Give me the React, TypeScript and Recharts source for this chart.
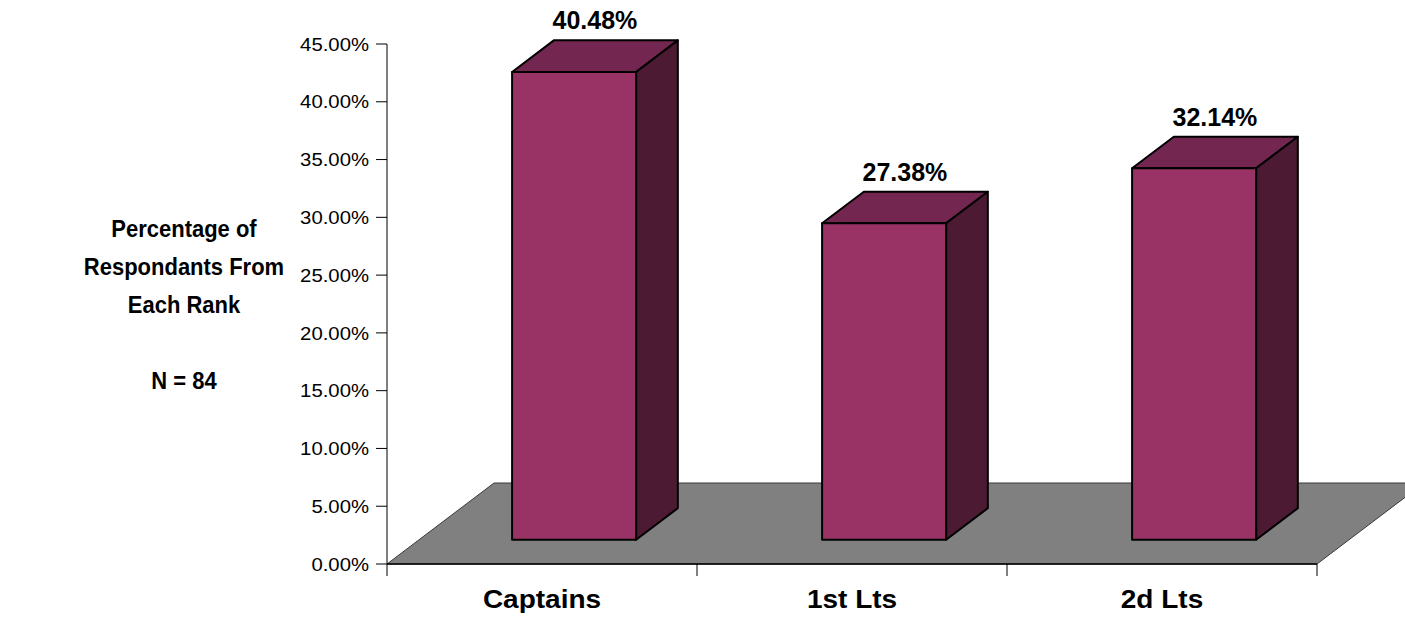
import { BarChart, Bar, XAxis, YAxis, ReferenceArea, LabelList, Label } from "recharts";

const ranks = ["Captains", "1st Lts", "2d Lts"];
const shares = [40.48, 27.38, 32.14];
const yTicks = [0, 5, 10, 15, 20, 25, 30, 35, 40, 45];
const titleLines = ["Percentage of", "Respondants From", "Each Rank", "", "N = 84"];

const chartData = ranks.map((rank, i) => ({ rank, share: shares[i] }));

const FONT = "'Liberation Sans', Arial, sans-serif";

// depth of the floor, and where the bars sit inside it
const DEPTH_X = 107;
const DEPTH_Y = -81;
const FRONT = 0.3;
const THICK = 0.39;

function Floor(props: any) {
  const { x, y, width, height } = props;
  const b = y + height;
  const pts = `${x},${b} ${x + DEPTH_X},${b + DEPTH_Y} ${x + width + DEPTH_X},${b + DEPTH_Y} ${x + width},${b}`;
  return <polygon points={pts} fill="#808080" stroke="#3a3a3a" strokeWidth={1} />;
}

function Bar3D(props: any) {
  const { x, y, width, height } = props;
  const ox = x + DEPTH_X * FRONT;
  const oy = y + DEPTH_Y * FRONT;
  const dx = DEPTH_X * THICK;
  const dy = DEPTH_Y * THICK;
  const bot = oy + height;
  return (
    <g stroke="#000" strokeWidth={2} strokeLinejoin="round">
      <polygon
        points={`${ox},${oy} ${ox + dx},${oy + dy} ${ox + width + dx},${oy + dy} ${ox + width},${oy}`}
        fill="#732650"
      />
      <polygon
        points={`${ox + width},${oy} ${ox + width + dx},${oy + dy} ${ox + width + dx},${bot + dy} ${ox + width},${bot}`}
        fill="#4d1a33"
      />
      <rect x={ox} y={oy} width={width} height={height} fill="#993366" />
    </g>
  );
}

function TopLabel(props: any) {
  const { x, y, width, value } = props;
  const cx = x + width / 2 + DEPTH_X * FRONT + (DEPTH_X * THICK) / 2;
  const top = y + DEPTH_Y * (FRONT + THICK);
  return (
    <text x={cx} y={top - 11} textAnchor="middle" fontFamily={FONT} fontWeight="bold" fontSize={25} fill="#000">
      {`${value.toFixed(2)}%`}
    </text>
  );
}

function YTick(props: any) {
  const { x, y, payload } = props;
  return (
    <text
      transform={`translate(${x},${y}) scale(1.07,1)`}
      textAnchor="end"
      dy="0.35em"
      fontFamily={FONT}
      fontSize={19}
      fill="#000"
    >
      {`${payload.value.toFixed(2)}%`}
    </text>
  );
}

function XTick(props: any) {
  const { x, y, payload, index, visibleTicksCount } = props;
  const half = payload.offset || 0;
  return (
    <g>
      <line x1={x - half} y1={y} x2={x - half} y2={y + 12} stroke="#000" />
      {index === visibleTicksCount - 1 && (
        <line x1={x + half} y1={y} x2={x + half} y2={y + 12} stroke="#000" />
      )}
      <text
        transform={`translate(${x},${y + 44}) scale(1.12,1)`}
        textAnchor="middle"
        fontFamily={FONT}
        fontWeight="bold"
        fontSize={25}
        fill="#000"
      >
        {payload.value}
      </text>
    </g>
  );
}

function SideTitle(props: any) {
  const vb = props.viewBox || { x: 0, y: 44 };
  return (
    <g>
      {titleLines.map((line, i) => (
        <text
          key={i}
          transform={`translate(${vb.x + 184},${vb.y + 193 + i * 38}) scale(1,1.08)`}
          fontFamily={FONT}
          fontWeight="bold"
          fontSize={22}
          fill="#000"
          textAnchor="middle"
        >
          {line}
        </text>
      ))}
    </g>
  );
}

export default function App() {
  return (
    <div style={{ position: "absolute", left: 0, top: 0, background: "#fff" }}>
      <BarChart
        width={1405}
        height={621}
        data={chartData}
        margin={{ top: 44, right: 88, bottom: 0, left: 0 }}
        barCategoryGap="30%"
      >
        <ReferenceArea y1={0} y2={45} shape={Floor} />
        <XAxis
          dataKey="rank"
          height={57}
          axisLine={{ stroke: "#000", strokeWidth: 1.5 }}
          tickLine={false}
          tickSize={0}
          tickMargin={0}
          tick={XTick}
          interval={0}
        />
        <YAxis
          width={387}
          domain={[0, 45]}
          ticks={yTicks}
          interval={0}
          axisLine={{ stroke: "#000" }}
          tickLine={{ stroke: "#000" }}
          tickSize={11}
          tickMargin={7}
          tick={YTick}
        >
          <Label content={SideTitle} position="insideLeft" />
        </YAxis>
        <Bar dataKey="share" shape={Bar3D} isAnimationActive={false}>
          <LabelList dataKey="share" content={TopLabel} />
        </Bar>
      </BarChart>
    </div>
  );
}
